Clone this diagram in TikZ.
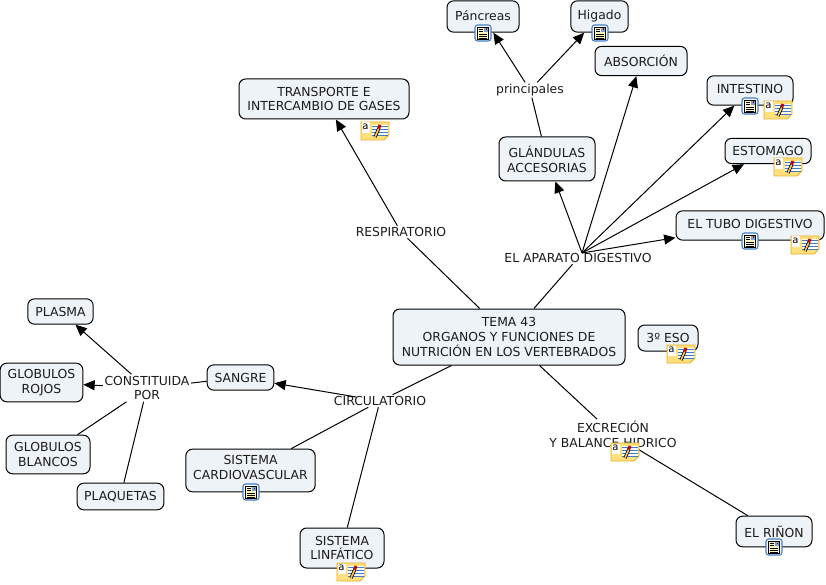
\documentclass[tikz,border=0pt]{standalone}
\usepackage{fontspec}
\setmainfont{DejaVu Sans}
\usetikzlibrary{arrows.meta}
\definecolor{conceptfill}{HTML}{EDF3F6}
\definecolor{inktext}{HTML}{1C1C1C}
\definecolor{noteyellow}{HTML}{FFE07A}
\definecolor{noteedge}{HTML}{E6AE2E}
\definecolor{resblue}{HTML}{3F7CC8}
\definecolor{respage}{HTML}{FFF6C4}
\tikzset{
  concept/.style={draw=black, line width=0.75pt, fill=conceptfill, rounded corners=5pt, text=inktext,
    align=center, inner sep=0pt, font=\fontsize{9.3}{11.2}\selectfont},
  linktext/.style={text=inktext, align=center, inner sep=1pt, font=\fontsize{9.3}{11.2}\selectfont},
  link/.style={draw=black, line width=0.75pt},
  linkarrow/.style={link, -{Triangle[length=8.5pt,width=7.5pt]}},
  pics/resicon/.style={code={
    \draw[resblue, line width=0.8pt, fill=white, rounded corners=2pt] (-8,-8) rectangle (8,8);
    \draw[black, line width=0.5pt, fill=respage] (-5.5,-6) rectangle (5.5,6);
    \fill[resblue!70] (0.5,-5) rectangle (4.5,-1);
    \fill[red!60!black] (2.5,-4.5) rectangle (4,-3);
    \foreach \yy in {-3.5,-1.5} \draw[black, line width=0.4pt] (-4,\yy) -- (-0.5,\yy);
    \foreach \yy in {1,3,4.8} \draw[black, line width=0.4pt] (-4,\yy) -- (4,\yy);
  }},
  pics/noteicon/.style={code={
    \draw[noteedge, line width=0.6pt, fill=noteyellow] (-14,-9) -- (14,-9) -- (14,4) -- (9,9) -- (-14,9) -- cycle;
    \fill[white] (-13.5,-8.5) rectangle (-5,2);
    \node[inner sep=0pt, font=\fontsize{7.5}{7.5}\selectfont] at (-9.5,-4) {a};
    \fill[white] (-3,-6) rectangle (13,5);
    \foreach \yy in {-5,-2,1,4} \draw[resblue, line width=0.5pt] (-3,\yy) -- (13,\yy);
    \draw[black, line width=2.4pt] (0,6) -- (4,-3);
    \draw[noteyellow!70!orange, line width=1.2pt] (0,6) -- (4,-3);
    \draw[red!75!black, line width=2.2pt] (3.6,-2.5) -- (5,-6);
  }}
}
\begin{document}
\begin{tikzpicture}[x=0.75pt, y=-0.75pt]
\useasboundingbox (0,0) rectangle (826,585);
% concepts
\node[concept, minimum width=174pt, minimum height=42pt] (tema) at (509,337) {TEMA 43\\ORGANOS Y FUNCIONES DE\\NUTRICIÓN EN LOS VERTEBRADOS};
\node[concept, minimum width=45pt, minimum height=19.5pt] (eso) at (668,338) {3º ESO};
\node[concept, minimum width=127.5pt, minimum height=30pt] (transporte) at (324,99) {TRANSPORTE E\\INTERCAMBIO DE GASES};
\node[concept, minimum width=72pt, minimum height=33pt] (glandulas) at (547,159) {GLÁNDULAS\\ACCESORIAS};
\node[concept, minimum width=54pt, minimum height=23.5pt, text depth=1.5pt] (pancreas) at (483,16.5) {Páncreas};
\node[concept, minimum width=43pt, minimum height=23.5pt, text depth=3pt] (higado) at (599.5,16.5) {Higado};
\node[concept, minimum width=69pt, minimum height=22pt] (absorcion) at (641,61) {ABSORCIÓN};
\node[concept, minimum width=64.5pt, minimum height=22pt, text depth=3pt] (intestino) at (750,90.5) {INTESTINO};
\node[concept, minimum width=64.5pt, minimum height=19pt] (estomago) at (768,151) {ESTOMAGO};
\node[concept, minimum width=111pt, minimum height=22pt, text depth=3pt] (tubo) at (750,225.5) {EL TUBO DIGESTIVO};
\node[concept, minimum width=50pt, minimum height=19pt] (sangre) at (240.5,377.5) {SANGRE};
\node[concept, minimum width=49pt, minimum height=19pt] (plasma) at (60.5,311.5) {PLASMA};
\node[concept, minimum width=62pt, minimum height=29pt] (rojos) at (41.5,382.5) {GLOBULOS\\ROJOS};
\node[concept, minimum width=63pt, minimum height=29pt] (blancos) at (48,454.5) {GLOBULOS\\BLANCOS};
\node[concept, minimum width=65pt, minimum height=20pt] (plaquetas) at (120.5,496.5) {PLAQUETAS};
\node[concept, minimum width=97pt, minimum height=32pt, text depth=4pt] (cardio) at (250.5,470.5) {SISTEMA\\CARDIOVASCULAR};
\node[concept, minimum width=63pt, minimum height=30pt] (linfatico) at (342,548) {SISTEMA\\LINFÁTICO};
\node[concept, minimum width=57pt, minimum height=23pt] (rinon) at (774,531.5) {EL RIÑON};
% linking phrases
\node[linktext] (respiratorio) at (401,232) {RESPIRATORIO};
\node[linktext] (aparato) at (578,258) {EL APARATO DIGESTIVO};
\node[linktext] (principales) at (530,90) {principales};
\node[linktext] (circulatorio) at (380,401) {CIRCULATORIO};
\node[linktext] (constituida) at (147,388) {CONSTITUIDA\\POR};
\node[linktext] (excrecion) at (613,434) {EXCRECIÓN\\Y BALANCE HIDRICO};
\coordinate (aparatohub) at (582,253);
% connectors
\draw[link] (tema) -- (respiratorio);
\draw[linkarrow] (respiratorio) -- (transporte);
\draw[link] (tema) -- (aparato);
\draw[linkarrow] (aparatohub) -- (glandulas);
\draw[linkarrow] (aparatohub) -- (absorcion);
\draw[linkarrow] (aparatohub) -- (intestino);
\draw[linkarrow] (aparatohub) -- (estomago);
\draw[linkarrow] (aparatohub) -- (tubo);
\draw[link] (glandulas) -- (principales);
\draw[linkarrow] (principales) -- (pancreas);
\draw[linkarrow] (principales) -- (higado);
\draw[link] (tema) -- (circulatorio);
\draw[linkarrow, shorten <=-10pt] (circulatorio) -- (sangre);
\draw[link] (circulatorio) -- (cardio);
\draw[link] (circulatorio) -- (linfatico);
\draw[link] (sangre) -- (constituida);
\draw[linkarrow] (constituida) -- (plasma);
\draw[linkarrow] (constituida) -- (rojos);
\draw[link] (constituida) -- (blancos);
\draw[link] (constituida) -- (plaquetas);
\draw[link] (tema) -- (excrecion);
\draw[link] (excrecion) -- (rinon);
% icons
\path (483,33) pic {resicon};
\path (600,33) pic {resicon};
\path (750,106) pic {resicon};
\path (750,241) pic {resicon};
\path (251,492) pic {resicon};
\path (774,547) pic {resicon};
\path (778,110) pic {noteicon};
\path (788,167) pic {noteicon};
\path (805,245) pic {noteicon};
\path (375,131) pic {noteicon};
\path (681,354) pic {noteicon};
\path (625,452) pic {noteicon};
\path (351,572) pic {noteicon};
\end{tikzpicture}
\end{document}
